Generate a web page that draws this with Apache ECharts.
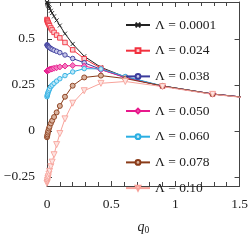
<!DOCTYPE html>
<html><head><meta charset="utf-8">
<script src="https://cdn.jsdelivr.net/npm/echarts@6/dist/echarts.min.js"></script>
<style>html,body{margin:0;padding:0;background:#fff}#c{width:251px;height:240px}</style>
</head><body><div id="c"></div>
<script>
// q0 grid (shared by all series)
const q0 = [0, 0.002, 0.004, 0.007, 0.01, 0.015, 0.02, 0.03, 0.04, 0.055, 0.075, 0.1, 0.14, 0.2, 0.29, 0.42, 0.61, 0.9, 1.29, 1.87];
const lam0001 = [0.70, 0.695, 0.69, 0.685, 0.68, 0.673, 0.666, 0.652, 0.64, 0.622, 0.60, 0.572, 0.528, 0.472, 0.405, 0.345, 0.292, 0.243, 0.200, 0.157];
const lam024  = [0.605, 0.600, 0.596, 0.590, 0.585, 0.578, 0.571, 0.559, 0.548, 0.535, 0.52, 0.505, 0.48, 0.44, 0.392, 0.34, 0.29, 0.243, 0.2, 0.157];
const lam038  = [0.467, 0.465, 0.463, 0.461, 0.458, 0.455, 0.452, 0.447, 0.443, 0.438, 0.432, 0.425, 0.412, 0.393, 0.37, 0.334, 0.289, 0.243, 0.2, 0.157];
const lam050  = [0.325, 0.326, 0.327, 0.328, 0.33, 0.331, 0.333, 0.335, 0.337, 0.34, 0.343, 0.347, 0.352, 0.355, 0.352, 0.332, 0.29, 0.243, 0.2, 0.157];
const lam060  = [0.185, 0.192, 0.198, 0.205, 0.212, 0.22, 0.228, 0.24, 0.248, 0.258, 0.27, 0.283, 0.30, 0.32, 0.338, 0.336, 0.295, 0.244, 0.2, 0.157];
const lam078  = [-0.035, -0.028, -0.02, -0.01, 0.0, 0.012, 0.022, 0.04, 0.055, 0.075, 0.1, 0.135, 0.185, 0.245, 0.29, 0.30, 0.284, 0.244, 0.2, 0.157];
const lam10   = [-0.285, -0.278, -0.27, -0.26, -0.25, -0.235, -0.22, -0.195, -0.17, -0.13, -0.075, -0.015, 0.065, 0.15, 0.218, 0.258, 0.268, 0.24, 0.198, 0.156];
const seriesNames = ['Λ = 0.0001', 'Λ = 0.024', 'Λ = 0.038', 'Λ = 0.050', 'Λ = 0.060', 'Λ = 0.078', 'Λ = 0.10'];
const yTicks = [-0.25, 0, 0.25, 0.5];

const allValues = [lam0001, lam024, lam038, lam050, lam060, lam078, lam10];
const FONT = 'Liberation Serif';
const AX = '#444';
const styles = [
  {c:'#222222', fill:'#222222', sym:'path://M0,0L10,10M10,0L0,10', size:4, rot:0},
  {c:'#f2323f', fill:'#fbd0d3', sym:'rect', size:4.5, rot:0},
  {c:'#3b3b9c', fill:'#c9c9ea', sym:'circle', size:4.5, rot:0},
  {c:'#e8198c', fill:'#f37cbf', sym:'diamond', size:6, rot:0},
  {c:'#2aaee2', fill:'#bfe8f8', sym:'circle', size:4.5, rot:0},
  {c:'#8a3b18', fill:'#d9b39f', sym:'circle', size:5, rot:0},
  {c:'#f7a29a', fill:'#fde4e1', sym:'triangle', size:6, rot:180}
];

const series = allValues.map((vals, i) => ({
  name: seriesNames[i],
  type: 'line',
  data: q0.map((q, k) => [q, vals[k]]),
  symbol: styles[i].sym,
  symbolSize: styles[i].size,
  symbolRotate: styles[i].rot,
  showAllSymbol: true,
  animation: false,
  lineStyle: {color: styles[i].c, width: 1},
  itemStyle: {color: styles[i].fill, borderColor: styles[i].c, borderWidth: 0.9}
}));

const legendBase = {
  orient: 'vertical', left: 125, padding: 0, itemWidth: 24, itemHeight: 6, itemGap: 11.7,
  selectedMode: false,
  textStyle: {fontFamily: FONT, fontSize: 13.5, lineHeight: 14, color: '#222'}
};

const axisCommon = {
  axisLine: {show: true, onZero: false, lineStyle: {color: AX, width: 1}},
  splitLine: {show: false}
};

const chart = echarts.init(document.getElementById('c'), null, {renderer: 'canvas'});
chart.setOption({
  animation: false,
  grid: {left: 47, right: 9, top: 2, bottom: 44},
  legend: [
    Object.assign({}, legendBase, {top: 18, data: seriesNames.slice(0, 3)}),
    Object.assign({}, legendBase, {top: 104, data: seriesNames.slice(3)})
  ],
  xAxis: [
    Object.assign({}, axisCommon, {
      type: 'value', min: 0, max: 1.5, interval: 0.5, position: 'bottom',
      axisTick: {show: true, inside: true, length: 5, lineStyle: {color: AX}},
      minorTick: {show: true, splitNumber: 5, length: 4, lineStyle: {color: AX}},
      axisLabel: {margin: 11, fontFamily: FONT, fontSize: 13.5, color: '#222', showMaxLabel: true},
      name: '{q|q}{s|0}', nameLocation: 'middle', nameGap: 33,
      nameTextStyle: {rich: {
        q: {fontFamily: FONT, fontStyle: 'italic', fontSize: 14, color: '#222', lineHeight: 16},
        s: {fontFamily: FONT, fontSize: 9.5, color: '#222', lineHeight: 16, verticalAlign: 'bottom'}
      }}
    }),
    Object.assign({}, axisCommon, {
      type: 'value', min: 0, max: 1.5, interval: 0.5, position: 'top',
      axisTick: {show: true, inside: true, length: 5, lineStyle: {color: AX}},
      minorTick: {show: true, splitNumber: 5, length: 4, lineStyle: {color: AX}},
      axisLabel: {show: false}
    })
  ],
  yAxis: [
    Object.assign({}, axisCommon, {
      type: 'value', min: -0.3, max: 0.7, position: 'left',
      axisTick: {show: true, inside: true, length: 5, customValues: yTicks, lineStyle: {color: AX}},
      axisLabel: {customValues: yTicks, margin: 12, fontFamily: FONT, fontSize: 13.5, color: '#222',
        formatter: v => (v < 0 ? '\u2212' + Math.abs(v) : String(v))}
    }),
    Object.assign({}, axisCommon, {
      type: 'value', min: -0.3, max: 0.7, position: 'right',
      axisTick: {show: true, inside: true, length: 5, customValues: yTicks, lineStyle: {color: AX}},
      axisLabel: {show: false}
    })
  ],
  series: series
});
</script></body></html>
